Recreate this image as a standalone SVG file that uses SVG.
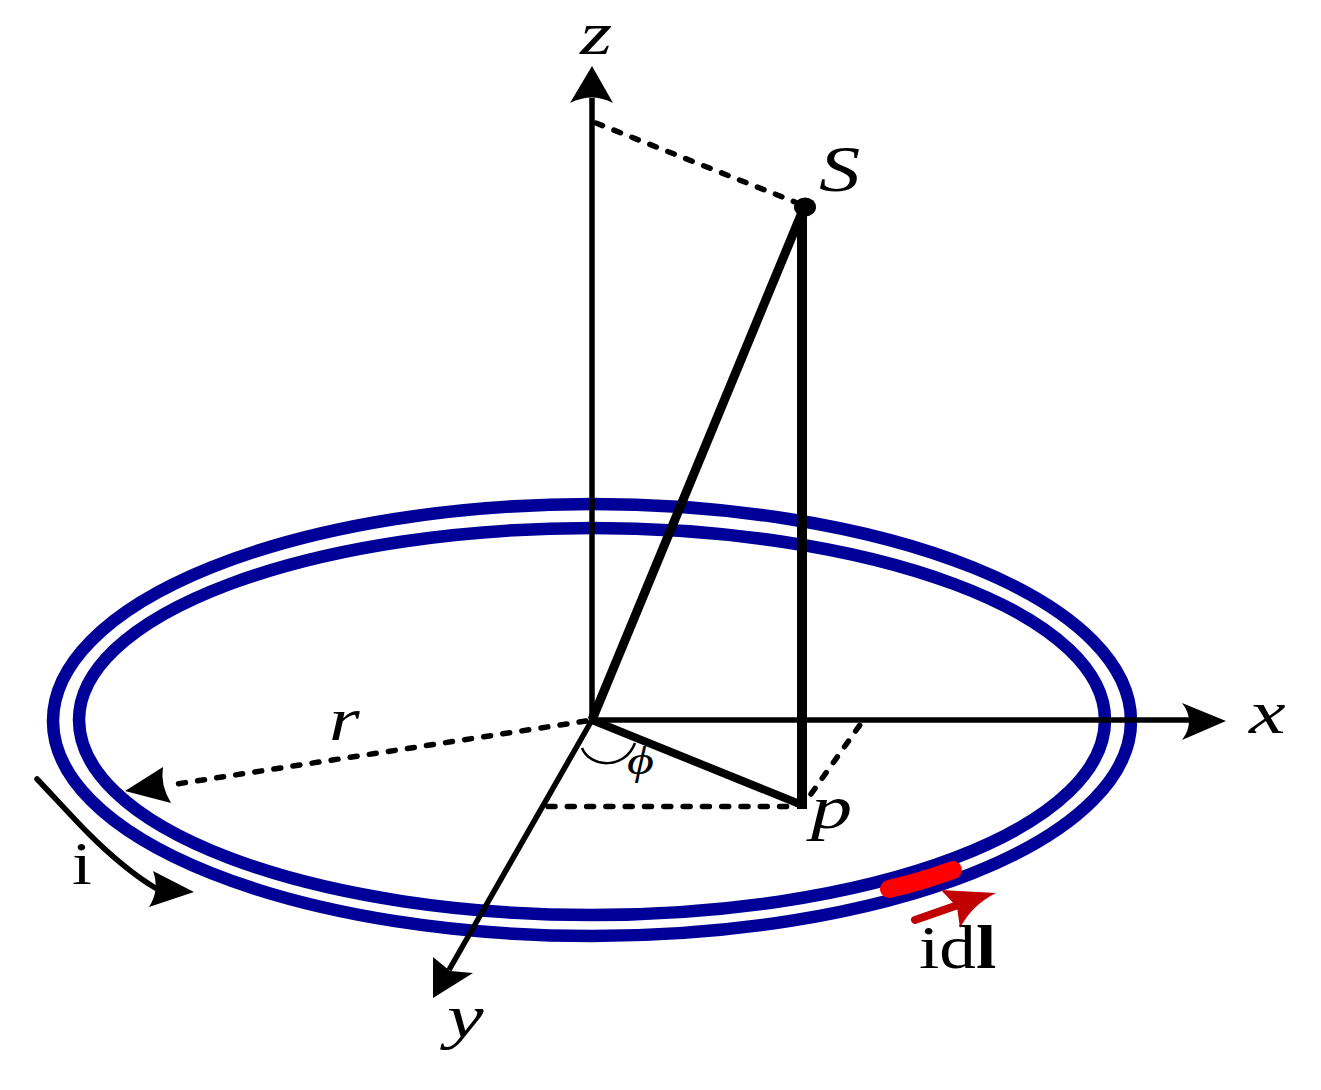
<svg xmlns="http://www.w3.org/2000/svg" width="1321" height="1090" viewBox="0 0 1321 1090">
<style>
.coil{fill:none;stroke:#000099;stroke-width:12.5}
.ax{fill:none;stroke:#000;stroke-width:5.5}
.thick{fill:none;stroke:#000;stroke-linecap:butt}
.dash{fill:none;stroke:#000;stroke-width:5.5;stroke-dasharray:7 12.3;stroke-linecap:round}
.head{fill:#000;stroke:none}
.it{font-family:"Liberation Serif","Times New Roman",serif;font-style:italic;font-size:62px;fill:#000}
.rm{font-family:"Liberation Serif","Times New Roman",serif;font-size:62px;fill:#000}
</style>
<rect width="1321" height="1090" fill="#fff"/>
<g id="coil">
<path class="coil" d="M53 721A539 217 0 0 1 1131 721A539 215 0 0 1 53 721Z"/>
<path class="coil" d="M79 720A513 192 0 0 1 1105 720A513 195 0 0 1 79 720Z"/>
</g>
<g id="connectors">
<path class="ax" d="M592 720V98"/>
<path class="ax" d="M592 720H1190"/>
<path class="ax" d="M592 720L449 970" stroke-width="6"/>
<path class="thick" stroke-width="9" d="M592 720L803 210"/>
<path class="thick" stroke-width="10" d="M802 207V809"/>
<path class="thick" stroke-width="8" d="M592 720L802 805"/>
<path class="dash" d="M596 123L795 202"/>
<path class="dash" d="M586 721L170 785"/>
<path class="dash" d="M548 806.500H798"/>
<path class="dash" d="M811 794L862 722"/>
<path d="M582 748C590 768 625 770 635 743" fill="none" stroke="#000" stroke-width="2.500"/>
<path d="M37 779C55 798 75 820 88 833S125 870 157 889" fill="none" stroke="#000" stroke-width="5.500" stroke-linecap="round"/>
<path class="head" d="M592 66L613 103Q592 92 570 103Z"/>
<path class="head" d="M1226 721L1182 703Q1196 721 1182 740Z"/>
<path class="head" d="M433 998L433 957L450 971L473 973Z"/>
<path class="head" d="M125 791L163 767Q160 785 171 803Z"/>
<path class="head" d="M194 892L153 871Q160 890 149 907Z"/>
<path d="M889 889Q920 882 953 870" fill="none" stroke="#ff0000" stroke-width="18" stroke-linecap="round"/>
<path d="M915 920L958 905" fill="none" stroke="#c00000" stroke-width="8" stroke-linecap="round"/>
<path d="M996 893L941 890L957 907L960 928Q972 905 996 893Z" fill="#c00000"/>
</g>
<g id="node-s">
<ellipse cx="805" cy="207" rx="11" ry="9.500" fill="#000"/>
<text class="it" style="font-size:66px" transform="translate(819 191) scale(1.25 1)">S</text>
</g>
<g id="node-z"><text class="it" transform="translate(580 54) scale(1.33 1)">z</text></g>
<g id="node-x"><text class="it" transform="translate(1249 733) scale(1.33 1)">x</text></g>
<g id="node-y"><text class="it" transform="translate(447 1037) scale(1.33 1)">y</text></g>
<g id="node-p"><text class="it" transform="translate(811 828) scale(1.33 1)">p</text></g>
<g id="node-r"><text class="it" transform="translate(329 740) scale(1.27 1)">r</text></g>
<g id="node-phi"><text transform="translate(627 774) scale(1.3 1)" font-family="'Liberation Serif','DejaVu Serif',serif" font-style="italic" font-size="40" fill="#000">ϕ</text></g>
<g id="node-i"><text class="rm" transform="translate(72 884) scale(1.15 1)">i</text></g>
<g id="node-idl"><text class="rm" transform="translate(919 968) scale(1.18 1)">id<tspan font-weight="bold">l</tspan></text></g>
</svg>
